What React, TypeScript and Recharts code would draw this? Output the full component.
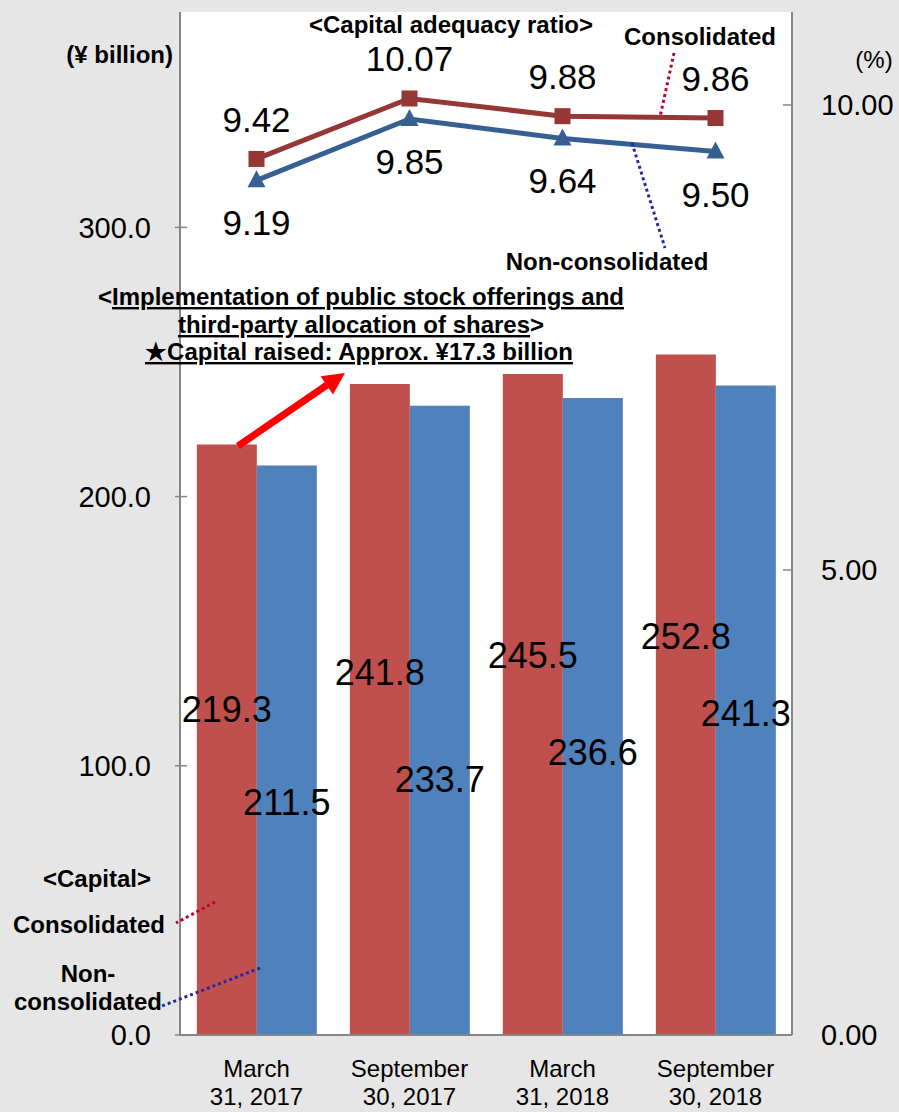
import { ComposedChart, Bar, Line, XAxis, YAxis, CartesianGrid, LabelList } from "recharts"

const categories = ["March 31, 2017", "September 30, 2017", "March 31, 2018", "September 30, 2018"]
const capitalConsolidated = [219.3, 241.8, 245.5, 252.8]
const capitalNonConsolidated = [211.5, 233.7, 236.6, 241.3]
const ratioConsolidated = [9.42, 10.07, 9.88, 9.86]
const ratioNonConsolidated = [9.19, 9.85, 9.64, 9.5]
const capitalTicks = [0, 100, 200, 300]
const ratioTicks = [0, 5, 10]

// label baselines below the top of each bar (the source labels were dragged by hand)
const consLabelDrop = [277, 301, 294, 295]
const nonConsLabelDrop = [349, 386, 367, 341]

const FONT = "'Liberation Sans', Arial, sans-serif"
const AXIS = "#868686"

const data = categories.map((name, i) => ({
  name,
  capCons: capitalConsolidated[i],
  capNon: capitalNonConsolidated[i],
  ratioCons: ratioConsolidated[i],
  ratioNon: ratioNonConsolidated[i],
}))

const barLabel = (drops: number[]) => (props: any) => {
  const { x, y, width, value, index } = props
  return (
    <text x={x + width / 2} y={y + drops[index]} textAnchor="middle" fontSize={36} fill="#000" fontFamily={FONT}>
      {Number(value).toFixed(1)}
    </text>
  )
}

const lineLabel = (dy: number) => (props: any) => {
  const { x, y, value } = props
  return (
    <text x={x} y={y + dy} textAnchor="middle" fontSize={35} fill="#000" fontFamily={FONT}>
      {Number(value).toFixed(2)}
    </text>
  )
}

const SquareDot = (props: any) => {
  const { cx, cy } = props
  return <rect x={cx - 8} y={cy - 8} width={16} height={16} fill="#953735" />
}

const TriangleDot = (props: any) => {
  const { cx, cy } = props
  return <polygon points={`${cx},${cy - 10} ${cx + 9},${cy + 7} ${cx - 9},${cy + 7}`} fill="#376092" />
}

const DateTick = (props: any) => {
  const { x, y, payload } = props
  const s = String(payload.value)
  const cut = s.indexOf(" ")
  return (
    <text x={x} textAnchor="middle" fontSize={24} fill="#000" fontFamily={FONT}>
      <tspan x={x} y={y + 42}>{s.slice(0, cut)}</tspan>
      <tspan x={x} y={y + 70}>{s.slice(cut + 1)}</tspan>
    </text>
  )
}

// left ticks cross the axis line, right ticks point into the plot
const LeftTick = (props: any) => {
  const { x, y, payload } = props
  return (
    <g>
      <line x1={x + 24} x2={x + 36} y1={y} y2={y} stroke={AXIS} strokeWidth={1.5} />
      <text x={x} y={y} dy="0.355em" textAnchor="end" fontSize={29} fill="#000" fontFamily={FONT}>
        {Number(payload.value).toFixed(1)}
      </text>
    </g>
  )
}

const RightTick = (props: any) => {
  const { x, y, payload } = props
  return (
    <g>
      <line x1={x - 38} x2={x - 29} y1={y} y2={y} stroke={AXIS} strokeWidth={1.5} />
      <text x={x} y={y} dy="0.355em" textAnchor="start" fontSize={29} fill="#000" fontFamily={FONT}>
        {Number(payload.value).toFixed(2)}
      </text>
    </g>
  )
}

export default function App() {
  const bold = { fontFamily: FONT, fontWeight: 700, fontSize: 24, fill: "#000" }
  return (
    <div style={{ position: "absolute", left: 0, top: 0, width: 899, height: 1112, background: "#e6e6e6", fontFamily: FONT }}>
      <ComposedChart
        width={899}
        height={1112}
        data={data}
        margin={{ top: 12, right: 27, bottom: 7, left: 100 }}
        barCategoryGap="11%"
        barGap={0}
      >
        <CartesianGrid horizontal={false} vertical={false} fill="#ffffff" />
        <XAxis
          dataKey="name"
          height={70}
          tickSize={0}
          tickMargin={0}
          axisLine={{ stroke: AXIS, strokeWidth: 2 }}
          tickLine={false}
          tick={<DateTick />}
        />
        <YAxis
          yAxisId="left"
          width={80}
          domain={[0, 380]}
          ticks={capitalTicks}
          tickSize={0}
          tickMargin={29}
          axisLine={{ stroke: AXIS, strokeWidth: 2 }}
          tickLine={false}
          tick={<LeftTick />}
        />
        <YAxis
          yAxisId="right"
          orientation="right"
          width={80}
          domain={[0, 11]}
          ticks={ratioTicks}
          tickSize={0}
          tickMargin={29}
          axisLine={{ stroke: AXIS, strokeWidth: 2 }}
          tickLine={false}
          tick={<RightTick />}
        />
        <Bar yAxisId="left" dataKey="capCons" fill="#C0504D" isAnimationActive={false}>
          <LabelList dataKey="capCons" content={barLabel(consLabelDrop)} />
        </Bar>
        <Bar yAxisId="left" dataKey="capNon" fill="#4F81BD" isAnimationActive={false}>
          <LabelList dataKey="capNon" content={barLabel(nonConsLabelDrop)} />
        </Bar>
        <Line
          yAxisId="right"
          dataKey="ratioCons"
          stroke="#953735"
          strokeWidth={5}
          dot={<SquareDot />}
          isAnimationActive={false}
        >
          <LabelList dataKey="ratioCons" content={lineLabel(-27)} />
        </Line>
        <Line
          yAxisId="right"
          dataKey="ratioNon"
          stroke="#376092"
          strokeWidth={5}
          dot={<TriangleDot />}
          isAnimationActive={false}
        >
          <LabelList dataKey="ratioNon" content={lineLabel(55)} />
        </Line>
      </ComposedChart>

      <svg width={899} height={1112} style={{ position: "absolute", left: 0, top: 0, pointerEvents: "none" }}>
        <text x={173} y={63} textAnchor="end" {...bold}>(¥ billion)</text>
        <text x={874} y={68} textAnchor="middle" fontFamily={FONT} fontSize={24} fill="#000">(%)</text>
        <text x={451} y={33} textAnchor="middle" {...bold}>&lt;Capital adequacy ratio&gt;</text>
        <text x={700} y={45} textAnchor="middle" {...bold}>Consolidated</text>
        <text x={607} y={270} textAnchor="middle" {...bold}>Non-consolidated</text>

        <text x={361} y={305} textAnchor="middle" {...bold}>
          &lt;<tspan textDecoration="underline">Implementation of public stock offerings and</tspan>
        </text>
        <text x={361} y={333} textAnchor="middle" {...bold}>
          <tspan textDecoration="underline">third-party allocation of shares</tspan>&gt;
        </text>
        <text x={359} y={360} textAnchor="middle" textDecoration="underline" {...bold}>
          ★Capital raised: Approx. ¥17.3 billion
        </text>

        <text x={97} y={887} textAnchor="middle" {...bold}>&lt;Capital&gt;</text>
        <text x={89} y={933} textAnchor="middle" {...bold}>Consolidated</text>
        <text x={88} y={982} textAnchor="middle" {...bold}>Non-</text>
        <text x={88} y={1010} textAnchor="middle" {...bold}>consolidated</text>

        <line x1={674} y1={53} x2={660} y2={117} stroke="#C00030" strokeWidth={3} strokeDasharray="3 3" />
        <line x1={632} y1={143} x2={665} y2={248} stroke="#2828A0" strokeWidth={3} strokeDasharray="3 3" />
        <line x1={215} y1={902} x2={176} y2={923} stroke="#C00030" strokeWidth={3} strokeDasharray="3 3" />
        <line x1={260} y1={968} x2={162} y2={1006} stroke="#2828A0" strokeWidth={3} strokeDasharray="3 3" />

        <line x1={238} y1={446} x2={327} y2={385} stroke="#FF0000" strokeWidth={7} />
        <polygon points="345,373 333,394.5 320.6,376.3" fill="#FF0000" />
      </svg>
    </div>
  )
}
